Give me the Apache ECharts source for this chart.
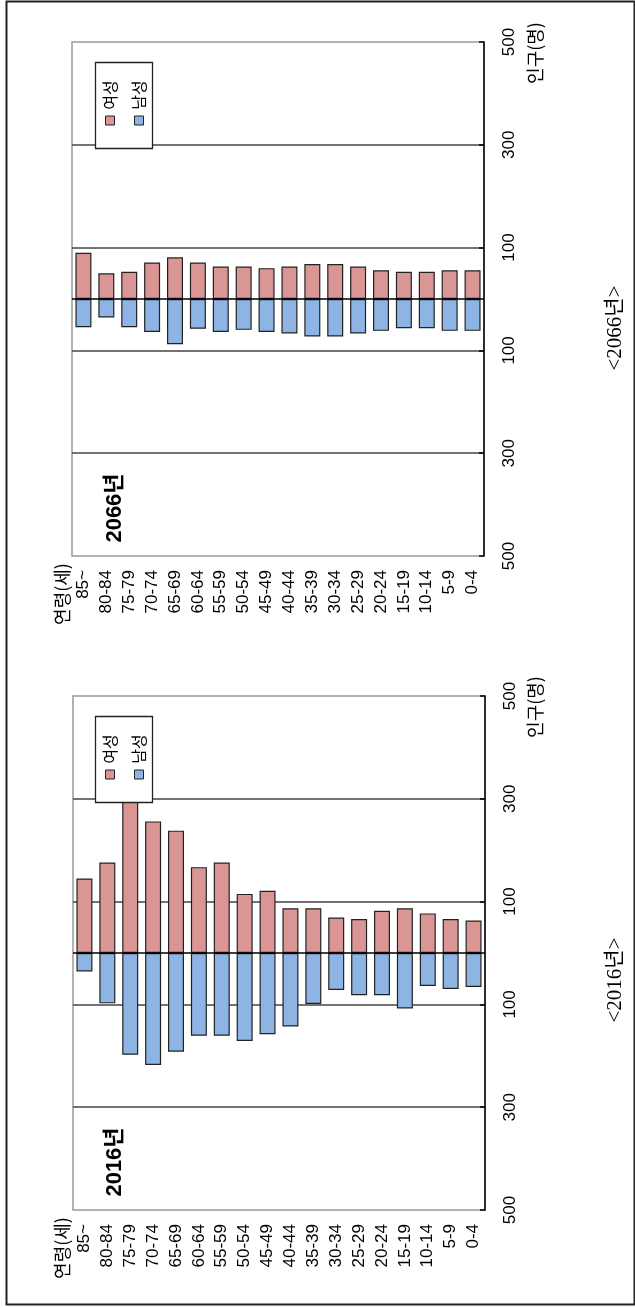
<!DOCTYPE html>
<html>
<head>
<meta charset="utf-8">
<script src="https://cdn.jsdelivr.net/npm/echarts@6/dist/echarts.min.js"></script>
<style>
html,body{margin:0;padding:0;background:#fff;}
#c{width:635px;height:1308px;}
</style>
</head>
<body>
<div id="c"></div>
<script>
// ---- data ----
const ages = ['85~','80-84','75-79','70-74','65-69','60-64','55-59','50-54','45-49','40-44','35-39','30-34','25-29','20-24','15-19','10-14','5-9','0-4'];
const female2066 = [90,50,53,71,81,71,63,63,60,63,68,68,63,56,53,53,56,56];
const male2066   = [55,36,55,64,88,58,64,60,64,67,73,73,67,62,57,57,62,62];
const female2016 = [145,176,300,256,238,167,176,115,121,87,87,69,66,82,87,77,66,63];
const male2016   = [36,98,198,218,192,161,161,171,158,143,99,72,82,82,108,64,70,66];
const yMin = -500, yMax = 500, yStep = 200;
const legendNames = ['여성','남성'];
const panelTitles = ['2066년','2016년'];
const captions = ['<2066년>','<2016년>'];
const ageAxisName = '연령(세)';
const valueAxisName = '인구(명)';

const RED = '#D99694', BLUE = '#8EB4E3';
const SANS = "'Liberation Sans','Noto Sans CJK KR',sans-serif";
const KR = "'Noto Sans CJK KR',sans-serif";

const grids = [
  {left:72, top:42, width:412, height:514},
  {left:73, top:696, width:412, height:514}
];
const datasets = [[female2066, male2066],[female2016, male2016]];

const chart = echarts.init(document.getElementById('c'));
const option = {
  animation:false,
  backgroundColor:'#fff',
  grid: grids.map(g => ({...g, show:true, borderColor:'#999', borderWidth:1.5, backgroundColor:'transparent'})),
  xAxis: grids.map((g,i) => ({
    type:'category', gridIndex:i, data:ages, position:'bottom',
    axisLine:{show:false, onZero:false}, axisTick:{show:false},
    axisLabel:{interval:0, rotate:90, margin:14, fontFamily:SANS, fontSize:17, color:'#000'}
  })),
  yAxis: grids.map((g,i) => ({
    type:'value', gridIndex:i, position:'right', min:yMin, max:yMax, interval:yStep,
    axisLine:{show:true, lineStyle:{color:'#000', width:1.5}},
    axisTick:{show:true, inside:true, length:5, lineStyle:{color:'#000', width:1.5}},
    splitLine:{show:true, showMinLine:false, showMaxLine:false, lineStyle:{color:'#444', width:1.5}},
    axisLabel:{rotate:90, margin:17, fontFamily:SANS, fontSize:17, color:'#000',
      formatter: v => String(Math.abs(v))}
  })),
  series: []
};
datasets.forEach((ds,i) => {
  option.series.push({
    type:'bar', name:legendNames[0], xAxisIndex:i, yAxisIndex:i, stack:'s'+i,
    data:ds[0], barWidth:16,
    itemStyle:{color:RED, borderColor:'#222', borderWidth:1.2}
  });
  option.series.push({
    type:'bar', name:legendNames[1], xAxisIndex:i, yAxisIndex:i, stack:'s'+i,
    data:ds[1].map(v => -v), barWidth:16,
    itemStyle:{color:BLUE, borderColor:'#222', borderWidth:1.2}
  });
  option.series.push({
    type:'line', xAxisIndex:i, yAxisIndex:i, data:[], z:10, silent:true,
    markLine:{symbol:'none', silent:true, label:{show:false},
      lineStyle:{color:'#000', width:1.5, type:'solid'}, data:[{yAxis:0}]}
  });
});

// ---- decorations (rotated texts, legend boxes, frame) ----
const R = Math.PI/2;
const graphics = [];
graphics.push({type:'rect', shape:{x:6.5, y:1.5, width:628, height:1303}, style:{fill:'none', stroke:'#222', lineWidth:2}, z:1});
grids.forEach((g,i) => {
  const top = g.top, bottom = g.top + g.height;
  graphics.push({type:'rect', shape:{x:95.5, y:top+20.5, width:57, height:86}, style:{fill:'#fff', stroke:'#222', lineWidth:1.3}, z:20});
  [[110, RED, legendNames[0]], [139, BLUE, legendNames[1]]].forEach(([x,col,name]) => {
    graphics.push({type:'rect', shape:{x:x-4.5, y:top+74, width:9, height:9}, style:{fill:col, stroke:'#222', lineWidth:1}, z:21});
    graphics.push({type:'text', x:x, y:top+53, rotation:R, z:21,
      style:{text:name, font:'16px '+KR, fill:'#000', align:'center', verticalAlign:'middle'}});
  });
  graphics.push({type:'text', x:115, y:bottom-48, rotation:R, z:21,
    style:{text:panelTitles[i], font:'bold 22px '+SANS, fill:'#000', align:'center', verticalAlign:'middle'}});
  graphics.push({type:'text', x:62, y:bottom+38, rotation:R, z:21,
    style:{text:ageAxisName, font:'18px '+KR, fill:'#000', align:'center', verticalAlign:'middle'}});
  graphics.push({type:'text', x:535, y:top+11, rotation:R, z:21,
    style:{text:valueAxisName, font:'18px '+KR, fill:'#000', align:'center', verticalAlign:'middle'}});
  graphics.push({type:'text', x:615, y:(top+bottom)/2 + [29,27][i], rotation:R, z:21,
    style:{text:captions[i], font:"21px 'Liberation Serif','Noto Sans CJK KR',serif", fill:'#000', align:'center', verticalAlign:'middle'}});
});
option.graphic = graphics;
chart.setOption(option);
</script>
</body>
</html>
